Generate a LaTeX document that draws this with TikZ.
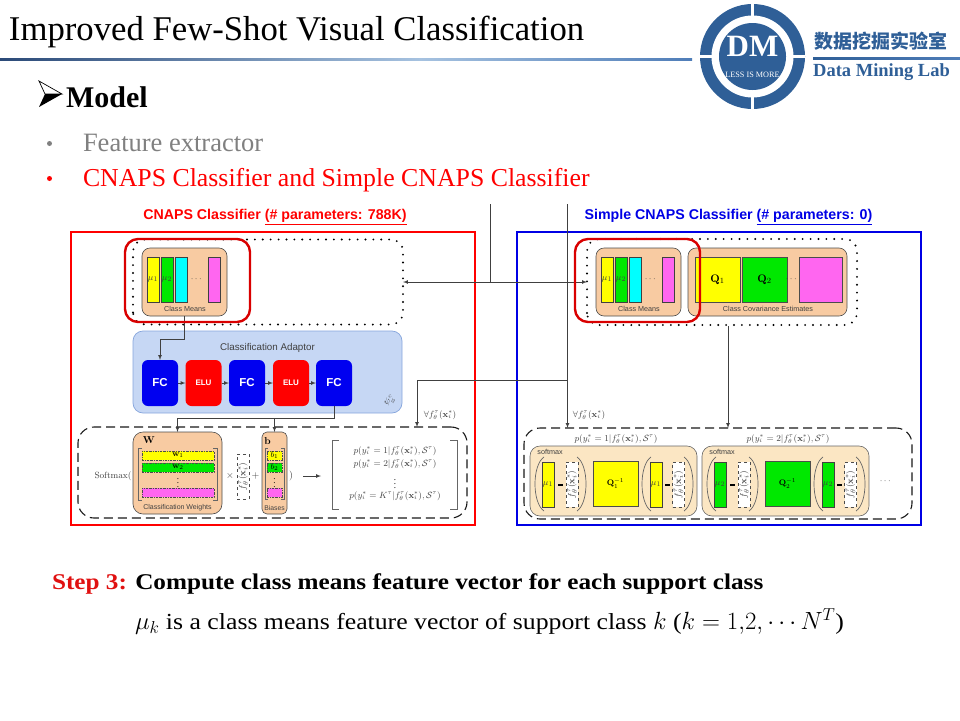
\documentclass[tikz,border=0pt]{standalone}
\usepackage{amsmath}
\usepackage[no-math]{fontspec}
\setmainfont{Liberation Serif}
\setsansfont{Liberation Sans}
\newfontfamily\cjk{Noto Sans CJK SC}
\newfontfamily\stepfont[FakeStretch=1.12]{Liberation Serif}
\definecolor{logoblue}{HTML}{2F5F97}
\definecolor{ruledark}{HTML}{2B4A78}
\definecolor{rulelight}{HTML}{A6C2E0}
\definecolor{rulemid}{HTML}{4F7DB8}
\definecolor{boxorange}{HTML}{F8CBA2}
\definecolor{boxcream}{HTML}{FBE6C3}
\definecolor{adaptblue}{HTML}{C6D7F4}
\definecolor{adaptedge}{HTML}{86A5DC}
\definecolor{barY}{HTML}{FFFF00}
\definecolor{barG}{HTML}{00E800}
\definecolor{barC}{HTML}{00FFFF}
\definecolor{barM}{HTML}{FF66F0}
\definecolor{figtext}{HTML}{404040}
\definecolor{stepred}{HTML}{E01010}
\newcommand{\featx}{f_\theta^\tau(\mathbf{x}_i^*)}
\begin{document}
\begin{tikzpicture}[x=1pt, y=-1pt, >=latex]
\tikzstyle{every node} = [inner sep=0pt, outer sep=0pt]
\tikzstyle{slidetext} = [anchor=west, font=\fontsize{26}{30}\selectfont]
\tikzstyle{figlabel} = [text=figtext, font=\sffamily\fontsize{7.2}{9}\selectfont]
\tikzstyle{mathlabel} = [text=figtext, font=\fontsize{8.8}{10}\selectfont]
\tikzstyle{orangebox} = [draw=black!70, fill=boxorange, rounded corners=8pt, line width=0.6pt]
\tikzstyle{creambox} = [draw=black!60, fill=boxcream, rounded corners=10pt, line width=0.6pt]
\tikzstyle{bar} = [draw=black!75, line width=0.7pt, text=figtext, font=\fontsize{9.5}{10}\selectfont, minimum width=12pt, minimum height=45pt]
\tikzstyle{square} = [draw=black!70, line width=0.7pt, minimum width=45pt, minimum height=45pt]
\tikzstyle{layerbox} = [rounded corners=6pt, text=white, font=\sffamily\bfseries, minimum width=36pt, minimum height=46pt]
\tikzstyle{rowbar} = [draw=black!70, dash pattern=on 2pt off 1pt on 0.6pt off 1pt, line width=0.6pt, font=\fontsize{8.5}{9}\selectfont, minimum height=9pt]
\tikzstyle{featbox} = [draw=black!70, dashed, fill=white, line width=0.7pt, minimum width=12pt, minimum height=45pt]
\tikzstyle{feattext} = [text=figtext, rotate=90, font=\fontsize{9.5}{10}\selectfont]
\tikzstyle{dotbox} = [line width=2.1pt, line cap=round, dash pattern=on 0pt off 7.9pt, rounded corners=12pt]
\tikzstyle{dashbox} = [draw=black!90, line width=1.1pt, dash pattern=on 9pt off 5pt, rounded corners=16pt]
\tikzstyle{redmark} = [draw=red!85!black, line width=2.4pt, rounded corners=13pt]
\tikzstyle{conn} = [draw=black!75, line width=0.7pt]
\tikzstyle{brk} = [draw=black!60, line width=0.7pt]
\useasboundingbox (0,0) rectangle (960,720);

% header
\node (title) [slidetext, font=\fontsize{34.7}{38}\selectfont] at (9,32) {Improved Few-Shot Visual Classification};
\shade [left color=ruledark, right color=rulelight] (0,58) rectangle (420,60.6);
\shade [left color=rulelight, right color=rulemid] (420,58) rectangle (692,60.6);
\shade [left color=logoblue, right color=rulemid] (813,57) rectangle (960,59.4);

% logo
\node (ringout) [circle, fill=logoblue, minimum size=105pt] at (752.5,56.5) {};
\node (ringin) [circle, fill=white, minimum size=82pt] at (ringout.center) {};
\node (disc) [circle, fill=logoblue, minimum size=67pt] at (ringout.center) {};
\foreach \ang in {0,90,180,270}
\draw [white, line width=3pt] (ringout.center) ++(-\ang:39) -- (ringout.\ang);
\node (dm) [text=white, font=\bfseries\fontsize{31}{33}\selectfont] at (752.5,46) {DM};
\node (less) [text=white, font=\fontsize{8.2}{9}\selectfont] at (752.5,75) {LESS IS MORE};
\node (labcn) [text=logoblue, font=\cjk\bfseries\fontsize{19}{21}\selectfont] at (881,41) {数据挖掘实验室};
\node (laben) [text=logoblue, font=\bfseries\fontsize{18.5}{20}\selectfont] at (881.5,72) {Data Mining Lab};

% bullets
\fill (62,94) -- (39,107) -- (45,94) -- cycle;
\draw [line width=0.7pt] (62,94) -- (39,81) -- (45,94) -- cycle;
\node (model) [slidetext, font=\bfseries\fontsize{30}{32}\selectfont] at (66,97) {Model};
\node (dotone) [circle, fill=gray, minimum size=5pt] at (49.5,143.5) {};
\node (feat) [slidetext, text=gray, font=\fontsize{26.5}{30}\selectfont] at (83,143) {Feature extractor};
\node (dottwo) [circle, fill=red, minimum size=5pt] at (49.5,178.5) {};
\node (cnaps) [slidetext, text=red, font=\fontsize{25.8}{30}\selectfont] at (83,180.5) {CNAPS Classifier and Simple CNAPS Classifier};

% panel frames
\node (frameL) [draw=red, line width=1.5pt, minimum width=404pt, minimum height=293pt] at (273,378.5) {};
\node (frameR) [draw=blue!90!black, line width=1.5pt, minimum width=404pt, minimum height=293pt] at (719,378.5) {};
\node (headL) [text=red, font=\sffamily\bfseries\fontsize{14.2}{16}\selectfont] at (275,217) {CNAPS Classifier \underline{(\# parameters: 788K)}};
\node (headR) [text=blue!90!black, font=\sffamily\bfseries\fontsize{14.2}{16}\selectfont] at (728.5,217) {Simple CNAPS Classifier \underline{(\# parameters: 0)}};

% class means, both panels
\foreach \side/\ox in {L/0, R/454} {
\node (means\side) [orangebox, minimum width=85pt, minimum height=68pt] at ({184.5+\ox},282) {};
\foreach \n/\cx/\col/\lab in {1/153/barY/$\mu_1$, 2/167/barG/$\mu_2$, 3/181/barC/{}, 4/214/barM/{}}
\node (bar\side\n) [bar, fill=\col] at ({\cx+\ox},279.5) {\lab};
\node (dots\side) [text=black!80, font=\fontsize{9}{10}\selectfont] at ({197+\ox},279) {$\cdots$};
\node (lab\side) [figlabel] at ({185+\ox},309) {Class Means};
}
\node (dotL) [minimum width=270pt, minimum height=85pt] at (268,282) {};
\draw [dotbox] (dotL.south west) rectangle (dotL.north east);
\node (dotR) [minimum width=270pt, minimum height=86pt] at (722,282) {};
\draw [dotbox] (dotR.south west) rectangle (dotR.north east);

% covariance
\node (covbox) [orangebox, minimum width=159pt, minimum height=68pt] at (767.5,282) {};
\node (covone) [square, fill=barY, font=\fontsize{11}{12}\selectfont] at (717.5,279.5) {$\mathbf{Q}_1$};
\node (covtwo) [square, fill=barG, font=\fontsize{11}{12}\selectfont] at (764.5,279.5) {$\mathbf{Q}_2$};
\node (covdots) [text=black!80, font=\fontsize{9}{10}\selectfont] at (792,279) {$\cdots$};
\node (covlast) [square, fill=barM, minimum width=43pt] at (820.5,279.5) {};
\node (covlab) [figlabel] at (768,309) {Class Covariance Estimates};

% adaptor
\node (adaptor) [draw=adaptedge, fill=adaptblue, rounded corners=10pt, minimum width=269pt, minimum height=82pt, line width=0.7pt] at (267.5,372) {};
\node (adaptlab) [figlabel, font=\sffamily\fontsize{9.8}{11}\selectfont] at (267.5,348) {Classification Adaptor};
\node (fca) [layerbox, fill=blue!94!black, font=\sffamily\bfseries\fontsize{11.5}{13}\selectfont] at (160,383) {FC};
\node (elua) [layerbox, fill=red, font=\sffamily\bfseries\fontsize{8}{10}\selectfont] at (203.5,383) {ELU};
\node (fcb) [layerbox, fill=blue!94!black, font=\sffamily\bfseries\fontsize{11.5}{13}\selectfont] at (247,383) {FC};
\node (elub) [layerbox, fill=red, font=\sffamily\bfseries\fontsize{8}{10}\selectfont] at (291,383) {ELU};
\node (fcc) [layerbox, fill=blue!94!black, font=\sffamily\bfseries\fontsize{11.5}{13}\selectfont] at (334,383) {FC};
\foreach \from/\to in {fca/elua, elua/fcb, fcb/elub, elub/fcc}
\draw [conn, ->] (\from) -- (\to);
\node (psi) [mathlabel, rotate=30, font=\fontsize{9}{10}\selectfont] at (389.5,401) {$\psi_\phi^c$};

% softmax of the left panel
\node (dashL) [dashbox, minimum width=389pt, minimum height=91pt] at (272.5,472.5) {};
\node (softL) [mathlabel, anchor=east, font=\fontsize{8.8}{10}\selectfont] at (131.5,476) {$\mathrm{Softmax}($};
\node (matW) [orangebox, rounded corners=10pt, minimum width=89pt, minimum height=82pt] at (177.5,473) {};
\node (labW) [font=\bfseries\fontsize{10}{11}\selectfont] at (149,440) {$\mathbf{W}$};
\draw [brk] (142,448) -- (138,448) -- (138,500) -- (142,500);
\draw [brk] (213,448) -- (217,448) -- (217,500) -- (213,500);
\node (rowa) [rowbar, fill=barY, minimum width=72pt] at (178,455.5) {$\mathbf{w}_1$};
\node (rowb) [rowbar, fill=barG, minimum width=72pt] at (178,467.5) {$\mathbf{w}_2$};
\node (rowdots) [font=\fontsize{9}{10}\selectfont] at (178,480) {$\vdots$};
\node (rowc) [rowbar, fill=barM, minimum width=72pt] at (178,492.5) {};
\node (labwts) [figlabel, font=\sffamily\fontsize{7}{8}\selectfont] at (177.5,508) {Classification Weights};
\node (times) [mathlabel, font=\fontsize{10}{11}\selectfont] at (230,476) {$\times$};
\node (featL) [featbox] at (243,476.5) {};
\node (featLtxt) [feattext] at (featL) {$\featx$};
\node (plus) [mathlabel, font=\fontsize{10}{11}\selectfont] at (255.5,476) {$+$};
\node (matB) [orangebox, rounded corners=5pt, minimum width=25pt, minimum height=82pt] at (274.5,473) {};
\node (labb) [font=\bfseries\fontsize{10}{11}\selectfont] at (267.5,441) {$\mathbf{b}$};
\draw [brk] (268,448) -- (265,448) -- (265,499) -- (268,499);
\draw [brk] (281,448) -- (284,448) -- (284,499) -- (281,499);
\node (cella) [rowbar, fill=barY, minimum width=15pt] at (274.5,455.5) {$b_1$};
\node (cellb) [rowbar, fill=barG, minimum width=15pt] at (274.5,467.5) {$b_2$};
\node (celldots) [font=\fontsize{9}{10}\selectfont] at (274.5,480) {$\vdots$};
\node (cellc) [rowbar, fill=barM, minimum width=15pt] at (274.5,492.5) {};
\node (labbias) [figlabel, font=\sffamily\fontsize{6.8}{8}\selectfont] at (274.5,508) {Biases};
\node (close) [mathlabel, font=\fontsize{10}{11}\selectfont] at (291,476) {$)$};
\coordinate (arrA) at (303,476);
\coordinate (arrB) at (321,476);
\draw [conn, ->] (arrA) -- (arrB);
\draw [brk] (339,440) -- (332,440) -- (332,509) -- (339,509);
\draw [brk] (450,440) -- (457,440) -- (457,509) -- (450,509);
\node (proba) [mathlabel] at (395,451) {$p(y_i^*=1|\featx,\mathcal{S}^\tau)$};
\node (probb) [mathlabel] at (395,464) {$p(y_i^*=2|\featx,\mathcal{S}^\tau)$};
\node (probd) [font=\fontsize{9}{10}\selectfont] at (395,481) {$\vdots$};
\node (probc) [mathlabel] at (395,496) {$p(y_i^*=K^\tau|\featx,\mathcal{S}^\tau)$};

% softmax of the right panel
\node (dashR) [dashbox, minimum width=388pt, minimum height=91pt] at (718,473.5) {};
\foreach \g/\col/\ox/\px in {1/barY/0/616, 2/barG/172/788} {
\node (prob\g) [mathlabel] at (\px,439) {$p(y_i^*=\g|\featx,\mathcal{S}^\tau)$};
\node (soft\g) [creambox, minimum width=167pt, minimum height=70pt] at ({613.5+\ox},481) {};
\node (softlab\g) [figlabel] at ({550+\ox},451.5) {softmax};
\node (mua\g) [bar, fill=\col] at ({548+\ox},484.5) {$\mu_\g$};
\node (minusa\g) [fill=black, minimum width=5pt, minimum height=2.2pt] at ({560+\ox},485) {};
\node (feata\g) [featbox] at ({572+\ox},484.5) {};
\node (featat\g) [feattext] at (feata\g) {$\featx$};
\node (cov\g) [square, fill=\col, font=\fontsize{8.5}{10}\selectfont] at ({615.5+\ox},483.5) {$\mathbf{Q}_\g^{-1}$};
\node (mub\g) [bar, fill=\col] at ({656+\ox},484.5) {$\mu_\g$};
\node (minusb\g) [fill=black, minimum width=5pt, minimum height=2.2pt] at ({667+\ox},485) {};
\node (featb\g) [featbox] at ({678.5+\ox},484.5) {};
\node (featbt\g) [feattext] at (featb\g) {$\featx$};
\draw [brk] ({544+\ox},457) .. controls ({532+\ox},465) and ({532+\ox},503) .. ({544+\ox},511);
\draw [brk] ({577+\ox},457) .. controls ({589+\ox},465) and ({589+\ox},503) .. ({577+\ox},511);
\draw [brk] ({651+\ox},457) .. controls ({639+\ox},465) and ({639+\ox},503) .. ({651+\ox},511);
\draw [brk] ({684+\ox},457) .. controls ({696+\ox},465) and ({696+\ox},503) .. ({684+\ox},511);
}
\node (softdots) [text=black!80, font=\fontsize{9}{10}\selectfont] at (886,481) {$\cdots$};
\node (forallL) [mathlabel] at (440,415) {$\forall\featx$};
\node (forallR) [mathlabel] at (589,415) {$\forall\featx$};

% connectors
\coordinate (srcA) at (490,204);
\coordinate (srcB) at (567.5,204);
\coordinate (meet) at (490,282);
\coordinate (turnA) at (160,339);
\coordinate (turnB) at (177.5,418);
\coordinate (turnC) at (274.5,418);
\coordinate (turnD) at (417,380);
\coordinate (turnE) at (567.5,380);
\coordinate (covdrop) at (728,326);
\draw [conn, ->] (meansL.south) |- (turnA) -- (fca.north);
\draw [conn, ->] (fcc.south) |- (turnB) -- (matW.north);
\draw [conn, ->] (turnC) -- (matB.north);
\draw [conn] (srcA) -- (meet);
\draw [conn, ->] (meet) -- (dotL.east);
\draw [conn, ->] (meet) -- (dotR.west);
\draw [conn, ->] (srcB) -- (srcB |- dashR.north);
\draw [conn] (turnE) -- (turnD);
\draw [conn, ->] (turnD) -- (turnD |- dashL.north);
\draw [conn, ->] (covdrop) -- (covdrop |- dashR.north);

% red marks
\node (markL) [redmark, minimum width=125pt, minimum height=83pt] at (187.5,280.5) {};
\node (markR) [redmark, minimum width=125pt, minimum height=83pt] at (637.5,280.5) {};

% step text
\node (step) [slidetext, font=\stepfont\bfseries\fontsize{22.5}{26}\selectfont] at (52,584) {\textcolor{stepred}{Step 3:} Compute class means feature vector for each support class};
\node (stepnote) [slidetext, font=\stepfont\fontsize{23}{26}\selectfont] at (135,622) {$\mu_k$ is a class means feature vector of support class $k$ ($k=1{,}2{,}\cdots N^T$)};
\end{tikzpicture}
\end{document}
